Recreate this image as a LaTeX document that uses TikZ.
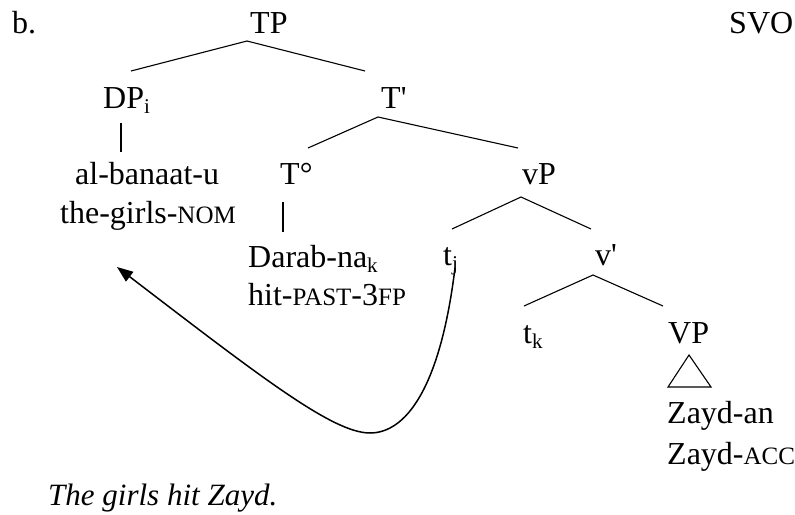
\documentclass[tikz,border=0pt]{standalone}
\usepackage{fontspec}
\setmainfont{Liberation Serif}
\usetikzlibrary{arrows.meta}
\newcommand\lsub[1]{\raisebox{-5pt}{\fontsize{21}{21}\selectfont #1}}
\newcommand\fsc[1]{{\fontsize{25}{30}\selectfont #1}}
\begin{document}
\begin{tikzpicture}[x=1pt,y=-1pt,
  lbl/.style={anchor=base west,inner sep=0pt,font=\fontsize{32}{38}\selectfont},
  edge/.style={line width=1.1pt,line join=miter},
  mv/.style={line width=1.5pt,-{Triangle[length=16pt,width=12pt]}}]
\useasboundingbox (0,0) rectangle (795,514);
% labels
\node[lbl] (b) at (12,33) {b.};
\node[lbl] (TP) at (250,33) {TP};
\node[lbl] (SVO) at (729,33) {SVO};
\node[lbl] (DP) at (103,108) {DP\lsub{i}};
\node[lbl] (Tbar) at (381,108) {T\textquotesingle};
\node[lbl] (alb) at (75,184) {al-banaat-u};
\node[lbl] (gls) at (60,223) {the-girls-\fsc{NOM}};
\node[lbl] (T0) at (280,184) {T°};
\node[lbl] (vP) at (522,184) {vP};
\node[lbl] (dar) at (248,267) {Darab-na\lsub{k}};
\node[lbl] (hit) at (248,305) {hit-\fsc{PAST}-3\fsc{FP}};
\node[lbl] (tj) at (443,265) {t\lsub{j}};
\node[lbl] (vbar) at (595,265) {v\textquotesingle};
\node[lbl] (tk) at (523,343) {t\lsub{k}};
\node[lbl] (VP) at (668,343) {VP};
\node[lbl] (zan) at (667,423) {Zayd-an};
\node[lbl] (zacc) at (667,464) {Zayd-\fsc{ACC}};
\node[lbl,font=\fontsize{31}{37}\selectfont\itshape] (gloss) at (48,505) {The girls hit Zayd.};
% tree edges
\draw[edge] ([shift={(28,-37)}]DP.base west) -- ([shift={(-3,8)}]TP.base west) -- ([shift={(-16,-37)}]Tbar.base west);
\draw[edge] ([shift={(18,15)}]DP.base west) -- ([shift={(46,-32)}]alb.base west);
\draw[edge] ([shift={(28,-36)}]T0.base west) -- ([shift={(-3,9)}]Tbar.base west) -- ([shift={(-4,-36)}]vP.base west);
\draw[edge] ([shift={(3,18)}]T0.base west) -- ([shift={(35,-35)}]dar.base west);
\draw[edge] ([shift={(9,-36)}]tj.base west) -- ([shift={(-1,13)}]vP.base west) -- ([shift={(-4,-36)}]vbar.base west);
\draw[edge] ([shift={(1,-37)}]tk.base west) -- ([shift={(-2,10)}]vbar.base west) -- ([shift={(-5,-37)}]VP.base west);
\draw[edge] ([shift={(21,12)}]VP.base west) -- ([shift={(1,-36)}]zan.base west) -- ([shift={(44,-36)}]zan.base west) -- cycle;
% movement arrow
\coordinate (tip) at ([shift={(57,44)}]gls.base west);
\draw[mv] ([shift={(12,3)}]tj.base west) .. controls (440,390) and (405,433) .. (370,433)
  .. controls (333,433) and (262,378) .. (tip);
\end{tikzpicture}
\end{document}
